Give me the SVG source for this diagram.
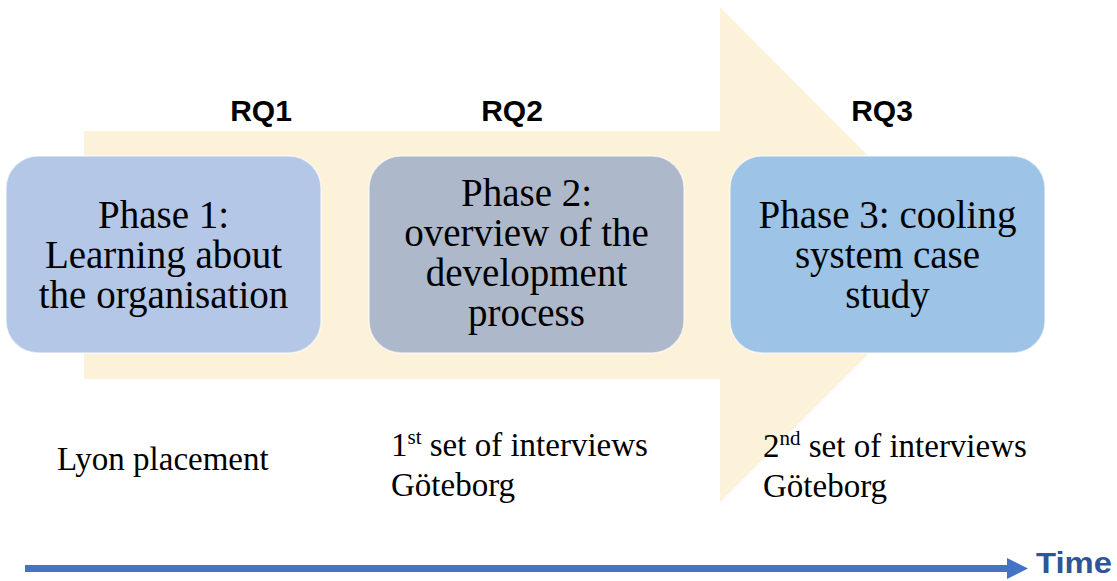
<svg xmlns="http://www.w3.org/2000/svg" width="1117" height="581" viewBox="0 0 1117 581">
<style>
.box{stroke:#ffffff;stroke-width:1.5;stroke-opacity:0.6}
.ph{font-family:"Liberation Serif","Times New Roman",serif;font-size:39px;fill:#000;text-anchor:middle}
.rq{font-family:"Liberation Sans",Arial,sans-serif;font-size:30px;font-weight:bold;fill:#000;text-anchor:middle}
.lbl{font-family:"Liberation Serif","Times New Roman",serif;font-size:33px;fill:#000}
.sup{font-size:21px}
</style>
<defs>
<marker id="timeHead" markerWidth="4" markerHeight="4" refX="0" refY="2" orient="auto" markerUnits="strokeWidth">
<path d="M0,0.5 L3,2 L0,3.5 Z" fill="#4472C4"/>
</marker>
</defs>
<g id="big-arrow">
<polygon points="84,131 720,131 720,7 967,255 720,502 720,379 84,379" fill="#FCF2DA"/>
</g>
<g id="rq-labels">
<text class="rq" x="261" y="121">RQ1</text>
<text class="rq" x="512" y="121">RQ2</text>
<text class="rq" x="882" y="121">RQ3</text>
</g>
<g id="phase1">
<rect class="box" x="6" y="156" width="315" height="197" rx="32" fill="#B4C7E7"/>
<text class="ph" x="163.5" y="228">Phase 1:</text>
<text class="ph" x="163.5" y="268">Learning about</text>
<text class="ph" x="163.5" y="308">the organisation</text>
</g>
<g id="phase2">
<rect class="box" x="369" y="156" width="315" height="197" rx="32" fill="#ADB9CA"/>
<text class="ph" x="526.5" y="206">Phase 2:</text>
<text class="ph" x="526.5" y="246">overview of the</text>
<text class="ph" x="526.5" y="286">development</text>
<text class="ph" x="526.5" y="326">process</text>
</g>
<g id="phase3">
<rect class="box" x="730" y="156" width="315" height="197" rx="32" fill="#9DC3E6"/>
<text class="ph" x="887.5" y="228">Phase 3: cooling</text>
<text class="ph" x="887.5" y="268">system case</text>
<text class="ph" x="887.5" y="308">study</text>
</g>
<g id="bottom-labels">
<text class="lbl" x="57" y="470">Lyon placement</text>
<text class="lbl" x="391" y="456">1<tspan class="sup" dy="-12">st</tspan><tspan dy="12"> set of interviews</tspan></text>
<text class="lbl" x="391" y="496">Göteborg</text>
<text class="lbl" x="763" y="457">2<tspan class="sup" dy="-12">nd</tspan><tspan dy="12"> set of interviews</tspan></text>
<text class="lbl" x="763" y="497">Göteborg</text>
</g>
<g id="connectors">
<line x1="25" y1="568.5" x2="1007" y2="568.5" stroke="#4472C4" stroke-width="7" marker-end="url(#timeHead)"/>
</g>
<g id="time-label">
<text x="1036" y="573" font-family="Liberation Sans, Arial, sans-serif" font-size="30" font-weight="bold" fill="#2F5597" textLength="76" lengthAdjust="spacingAndGlyphs">Time</text>
</g>
</svg>
